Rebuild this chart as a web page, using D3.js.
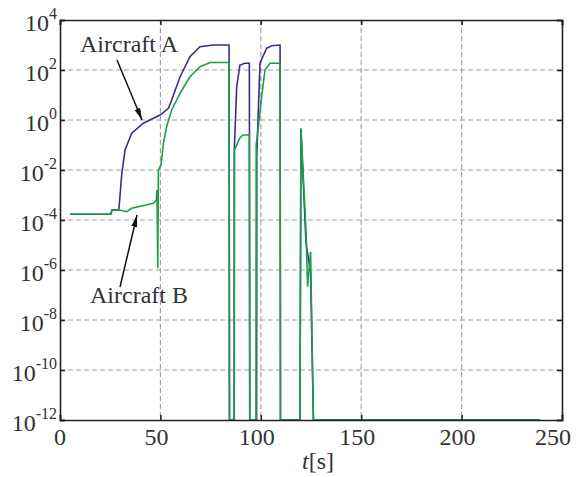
<!DOCTYPE html>
<html>
<head>
<meta charset="utf-8">
<script src="https://cdn.jsdelivr.net/npm/d3@7"></script>
<style>
  body { margin: 0; background: #fff; }
  text { font-family: "Liberation Serif", "Times New Roman", serif; fill: #333; }
</style>
</head>
<body>
<div id="container"></div>
<script>
// time axis ticks and log-decade ticks
const xTicks = [0, 50, 100, 150, 200, 250];
const yTickExps = [4, 2, 0, -2, -4, -6, -8, -10, -12];

// Aircraft A (purple): time [s] and log10 value
const tA = [5, 25.3, 25.9, 29.3, 30.8, 32.4, 35.7, 41.5, 49.8, 54.0, 55.6, 59.8, 64.7, 69.7, 76.2, 84.2, 84.4,
  86.7, 86.8, 88.0, 89.6, 92.1, 94.3, 94.5, 97.9, 98.0, 99.6, 102.9, 105.4, 109.6, 109.8,
  119.5, 120.0, 122.5, 124.8, 126.2, 239];
const logA = [-3.77, -3.77, -3.6, -3.6, -2.13, -1.2, -0.53, -0.13, 0.2, 0.47, 0.8, 1.73, 2.53, 2.93, 3.0, 3.0, -12,
  -12, -1.2, 1.33, 2.2, 2.27, 2.27, -12, -12, -1.4, 2.28, 2.87, 2.97, 3.0, -12,
  -12, -0.4, -4.9, -6.1, -12, -12];

// Aircraft B (green)
const tB = [5, 25.3, 25.9, 29.5, 33.2, 35.7, 46.5, 48.0, 48.3, 48.7, 49.0, 50.3, 51.5, 53.1, 55.6, 58.1, 59.8,
  64.7, 69.7, 74.7, 84.2, 84.4, 86.8, 86.9, 89.6, 91.1, 94.3, 94.5, 97.6, 97.7, 98.8, 100.4, 102.1,
  104.6, 109.6, 109.8, 119.5, 120.0, 122.6, 123.3, 124.8, 126.2, 239];
const logB = [-3.77, -3.77, -3.6, -3.6, -3.67, -3.53, -3.33, -3.2, -2.8, -5.93, -2.0, -1.8, -0.93, -0.27, 0.4, 0.8, 1.07,
  1.73, 2.13, 2.3, 2.3, -12, -12, -1.2, -0.72, -0.6, -0.6, -12, -12, -1.0, -0.27, 0.93, 2.0,
  2.27, 2.27, -12, -12, -0.33, -4.6, -6.67, -5.27, -12, -12];

const width = 578, height = 477;
const margin = { top: 20, right: 16, bottom: 57, left: 60 };
const w = width - margin.left - margin.right;
const h = height - margin.top - margin.bottom;

const svg = d3.select("#container").append("svg")
  .attr("width", width).attr("height", height);

const defs = svg.append("defs");
defs.append("clipPath").attr("id", "clip")
  .append("rect").attr("width", w).attr("height", h);
defs.append("marker").attr("id", "arrow")
  .attr("viewBox", "0 0 12 6").attr("refX", 12).attr("refY", 3)
  .attr("markerWidth", 12).attr("markerHeight", 6)
  .attr("markerUnits", "userSpaceOnUse").attr("orient", "auto")
  .append("path").attr("d", "M0,0 L12,3 L0,6 Z").attr("fill", "#111");

const g = svg.append("g").attr("transform", `translate(${margin.left},${margin.top})`);

const x = d3.scaleLinear().domain([0, 250]).range([0, w]);
const y = d3.scaleLog().domain([1e-12, 1e4]).range([h, 0]);

// grid
g.append("g").selectAll("line").data(xTicks.slice(1, -1)).join("line")
  .attr("x1", d => x(d)).attr("x2", d => x(d)).attr("y1", 0).attr("y2", h)
  .attr("stroke", "#a0a0a0").attr("stroke-width", 1.2).attr("stroke-dasharray", "5,3");
g.append("g").selectAll("line").data(yTickExps.slice(1, -1)).join("line")
  .attr("y1", d => y(10 ** d)).attr("y2", d => y(10 ** d)).attr("x1", 0).attr("x2", w)
  .attr("stroke", "#a0a0a0").attr("stroke-width", 1.2).attr("stroke-dasharray", "5,3");

// series
const line = d3.line().x(d => x(d[0])).y(d => y(10 ** d[1]));
const plot = g.append("g").attr("clip-path", "url(#clip)");
plot.append("path").datum(d3.zip(tA, logA))
  .attr("d", line).attr("fill", "none").attr("stroke", "#3b2b8c").attr("stroke-width", 1.6);
plot.append("path").datum(d3.zip(tB, logB))
  .attr("d", line).attr("fill", "none").attr("stroke", "#17a045").attr("stroke-width", 1.6);

// axes (ticks inward on all sides)
const tk = 5;
g.append("g").attr("transform", `translate(0,${h})`)
  .call(d3.axisBottom(x).tickValues(xTicks).tickSize(-tk).tickFormat(""));
g.append("g")
  .call(d3.axisTop(x).tickValues(xTicks).tickSize(-tk).tickFormat(""));
g.append("g")
  .call(d3.axisLeft(y).tickValues(yTickExps.map(e => 10 ** e)).tickSize(-tk).tickFormat(""));
g.append("g").attr("transform", `translate(${w},0)`)
  .call(d3.axisRight(y).tickValues(yTickExps.map(e => 10 ** e)).tickSize(-tk).tickFormat(""));
g.selectAll(".domain").attr("stroke", "#222").attr("stroke-width", 1.6);
g.selectAll(".tick line").attr("stroke", "#222").attr("stroke-width", 1.6);

// tick labels (last one pulled in so it stays on the page)
g.append("g").selectAll("text").data(xTicks).join("text")
  .attr("x", (d, i) => x(d) - (i === 0 ? 0 : i === xTicks.length - 1 ? 9 : 4))
  .attr("y", h + 25).attr("text-anchor", "middle")
  .attr("font-size", 24).text(d => d);

const yl = g.append("g").selectAll("text").data(yTickExps).join("text")
  .attr("x", -3).attr("y", d => y(10 ** d) + 11).attr("text-anchor", "end");
yl.append("tspan").attr("font-size", 24).text("10");
yl.append("tspan").attr("font-size", 16).attr("dy", -12).text(d => d);

// x label
const xl = svg.append("text").attr("x", 302).attr("y", 469).attr("font-size", 24);
xl.append("tspan").attr("font-style", "italic").text("t");
xl.append("tspan").text("[s]");

// annotations
svg.append("text").attr("x", 80).attr("y", 52).attr("font-size", 24).text("Aircraft A");
svg.append("line").attr("x1", 117).attr("y1", 60).attr("x2", 142).attr("y2", 120)
  .attr("stroke", "#111").attr("stroke-width", 1.5).attr("marker-end", "url(#arrow)");
svg.append("text").attr("x", 90).attr("y", 303).attr("font-size", 24).text("Aircraft B");
svg.append("line").attr("x1", 120).attr("y1", 287).attr("x2", 137).attr("y2", 215)
  .attr("stroke", "#111").attr("stroke-width", 1.5).attr("marker-end", "url(#arrow)");
</script>
</body>
</html>
